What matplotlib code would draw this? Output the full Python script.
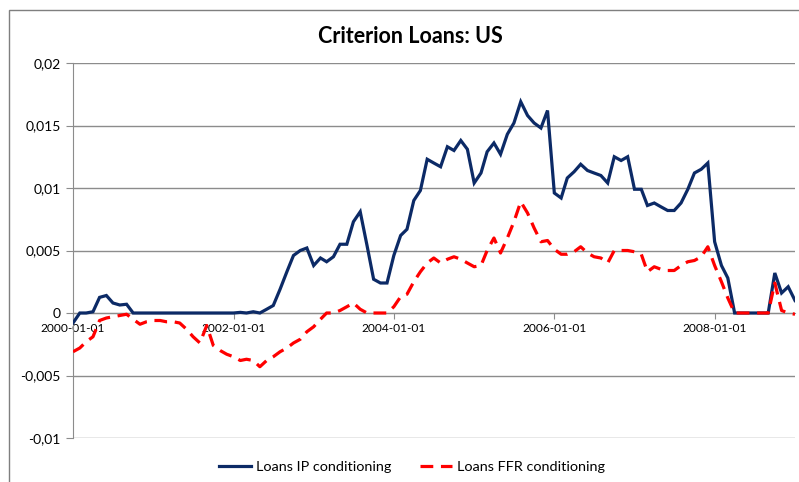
import matplotlib
matplotlib.use('Agg')
import matplotlib.pyplot as plt
import matplotlib.dates as mdates
import matplotlib.patches as mpatches
from matplotlib.ticker import FuncFormatter, MultipleLocator
import pandas as pd

# monthly observations, 2000-01 .. 2009-01
start_month = '2000-01-01'

loans_ip = [-0.0008, 0, 0, 0.0001, 0.00125, 0.0014, 0.0008, 0.00064, 0.0007, 0,
            0, 0, 0, 0, 0, 0, 0, 0, 0, 0,
            0, 0, 0, 0, 0, 0.00005, 0, 0.0001, 0, 0.0003,
            0.0006, 0.0019, 0.0033, 0.0046, 0.0050, 0.0052, 0.0038, 0.0044, 0.0041, 0.0045,
            0.0055, 0.0055, 0.0073, 0.0081, 0.0054, 0.0027, 0.0024, 0.0024, 0.0046, 0.0062,
            0.0067, 0.0090, 0.0098, 0.0123, 0.0120, 0.0117, 0.0133, 0.0130, 0.0138, 0.0131,
            0.0104, 0.0112, 0.0129, 0.0136, 0.0127, 0.0143, 0.0152, 0.0169, 0.0158, 0.0152,
            0.0148, 0.0162, 0.0096, 0.0092, 0.0108, 0.0113, 0.0119, 0.0114, 0.0112, 0.0110,
            0.0104, 0.0125, 0.0122, 0.0125, 0.0099, 0.0099, 0.0086, 0.0088, 0.0085, 0.0082,
            0.0082, 0.0088, 0.0099, 0.0112, 0.0115, 0.0120, 0.0057, 0.0038, 0.0028, 0,
            0, 0, 0, 0, 0, 0.0032, 0.0016, 0.0021, 0.0010]

loans_ffr = [-0.0031, -0.0028, -0.0023, -0.0019, -0.0006, -0.0004, -0.0003, -0.0002, -0.0001, -0.0005,
             -0.0009, -0.0007, -0.0006, -0.0006, -0.0007, -0.0007, -0.0008, -0.0013, -0.0019, -0.0024,
             -0.0010, -0.0026, -0.0030, -0.0033, -0.0035, -0.0038, -0.0037, -0.0038, -0.0043, -0.0038,
             -0.0035, -0.0031, -0.0028, -0.0024, -0.0021, -0.0015, -0.0011, -0.0005, 0, 0,
             0.0002, 0.0005, 0.0008, 0.0003, 0, 0, 0, 0, 0.0005, 0.0013,
             0.0015, 0.0025, 0.0033, 0.0040, 0.0044, 0.0040, 0.0043, 0.0045, 0.0043, 0.0040,
             0.0037, 0.0038, 0.0050, 0.0060, 0.0048, 0.0060, 0.0073, 0.0089, 0.0080, 0.0068,
             0.0057, 0.0058, 0.0051, 0.0047, 0.0047, 0.0049, 0.0053, 0.0048, 0.0045, 0.0044,
             0.0040, 0.0050, 0.0050, 0.0050, 0.0049, 0.0047, 0.0033, 0.0037, 0.0035, 0.0034,
             0.0034, 0.0038, 0.0041, 0.0042, 0.0045, 0.0053, 0.0038, 0.0025, 0.0012, 0,
             0, 0, 0, 0, 0, 0.0024, 0.0002, 0, -0.0001]

tick_years = ['2000-01-01', '2002-01-01', '2004-01-01', '2006-01-01', '2008-01-01']

GRID = '#8c8c8c'


def comma_fmt(v, pos):
    if abs(v) < 1e-12:
        return '0'
    return ('%g' % round(v, 4)).replace('.', ',')


def plot_criterion():
    plt.rcParams['font.family'] = ['Lato', 'DejaVu Sans']

    dates = pd.date_range(start_month, periods=len(loans_ip), freq='MS')

    fig = plt.figure(figsize=(7.99, 4.82), dpi=100)
    ax = fig.add_axes([73 / 799, 1 - 438 / 482, (795 - 73) / 799, (438 - 63) / 482])

    ax.plot(dates, loans_ip, color='#0c2a66', lw=2.3, label='Loans IP conditioning',
            solid_joinstyle='miter', zorder=3)
    ax.plot(dates, loans_ffr, color='#ff0000', lw=2.3, linestyle=(0, (4, 2.4)),
            label='Loans FFR conditioning', zorder=4)

    ax.set_ylim(-0.01, 0.02)
    ax.yaxis.set_major_locator(MultipleLocator(0.005))
    ax.yaxis.set_major_formatter(FuncFormatter(comma_fmt))
    ax.set_xlim(dates[0], dates[-1])

    ax.set_xticks(pd.to_datetime(tick_years))
    ax.xaxis.set_major_formatter(mdates.DateFormatter('%Y-%m-%d'))

    ax.grid(axis='y', color=GRID, lw=1)
    ax.set_axisbelow(True)
    for s in ['top', 'right']:
        ax.spines[s].set_visible(False)
    ax.spines['left'].set_color(GRID)
    ax.spines['bottom'].set_position(('data', 0))
    ax.spines['bottom'].set_color(GRID)
    ax.tick_params(axis='y', length=5, color=GRID, labelsize=10, pad=4)
    ax.tick_params(axis='x', length=4, color=GRID, labelsize=8.6, pad=3)

    fig.text(0.513, 0.925, 'Criterion Loans: US', ha='center', va='center',
             fontsize=15.5, fontweight='bold')

    fig.legend(loc='center', bbox_to_anchor=(0.516, 0.032), ncol=2, frameon=False,
               fontsize=10.4, handlelength=2.2, columnspacing=2.0, handletextpad=0.35)

    # spreadsheet chart frame (top and left edges visible)
    fig.patches.append(mpatches.Rectangle((9 / 799, -0.1), 2, 1.1 - 10 / 482,
                                          transform=fig.transFigure, fill=False,
                                          edgecolor='#7f7f7f', lw=1))

    fig.savefig('out.png', dpi=100)


def main():
    plot_criterion()


if __name__ == '__main__':
    main()
